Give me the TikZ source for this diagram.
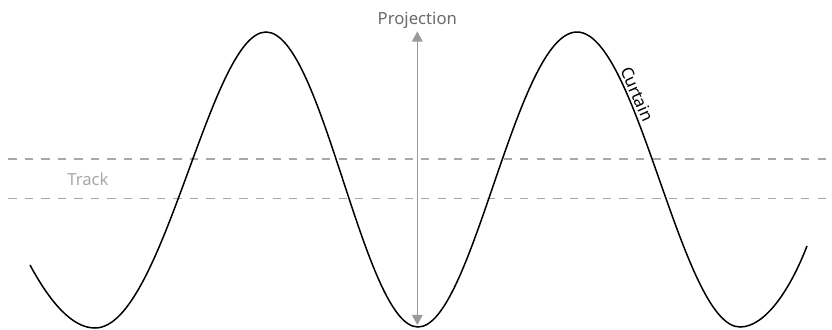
\documentclass[tikz,border=0pt]{standalone}
\usepackage{fontspec}
\setmainfont{Noto Sans}
\usetikzlibrary{arrows.meta,positioning}
\definecolor{trackgray}{HTML}{A8A8A8}
\definecolor{textgray}{HTML}{6A6A6A}
\definecolor{arrowgray}{HTML}{9A9A9A}

\begin{document}
\begin{tikzpicture}[x=0.02cm,y=-0.02cm,
    tracklines/.style={trackgray,line width=0.75pt,dash pattern=on 4.7pt off 4.7pt,dash phase=4.7pt},
    curtainline/.style={black,line width=0.85pt},
    projarrow/.style={arrowgray,line width=0.8pt,{Triangle[length=5.7pt,width=6pt]}-{Triangle[length=5.7pt,width=6pt]}},
    lbl/.style={font=\fontsize{9.5}{11}\selectfont,inner sep=0pt}]
  \useasboundingbox (0,0) rectangle (832,329);
  % track between the two dashed lines
  \coordinate (trackinl) at (0,159);
  \coordinate (trackinr) at (832,159);
  \coordinate (trackoutl) at (0,198.5);
  \coordinate (trackoutr) at (832,198.5);
  \draw[tracklines] (trackinl) -- (trackinr);
  \draw[tracklines] (trackoutl) -- (trackoutr);
  \node[lbl,trackgray,anchor=base] (track) at (88,185) {Track};
  % curtain
  \coordinate (cstart) at (30,265);
  \coordinate (trough1) at (95,328);
  \coordinate (peak1) at (266,32);
  \coordinate (trough2) at (418,327);
  \coordinate (peak2) at (577,32);
  \coordinate (trough3) at (740,327);
  \coordinate (cend) at (807,246);
  \draw[curtainline] (cstart) .. controls (50,302) and (72,328) .. (trough1)
    .. controls (163.3,328) and (210,32) .. (peak1)
    .. controls (322.3,32) and (363.8,327) .. (trough2)
    .. controls (472.9,327) and (516.3,32) .. (peak2)
    .. controls (637.3,32) and (681.8,327) .. (trough3)
    .. controls (765,327) and (790,290) .. (cend);
  \node[lbl,black,rotate=-66] (curtain) at (637.5,94) {Curtain};
  % projection
  \coordinate (projtop) at (417.3,31.5);
  \coordinate (projbot) at (417.3,325);
  \draw[projarrow] (projtop) -- (projbot);
  \node[lbl,textgray,above=1.5pt of projtop] (projection) {Projection};
\end{tikzpicture}
\end{document}
